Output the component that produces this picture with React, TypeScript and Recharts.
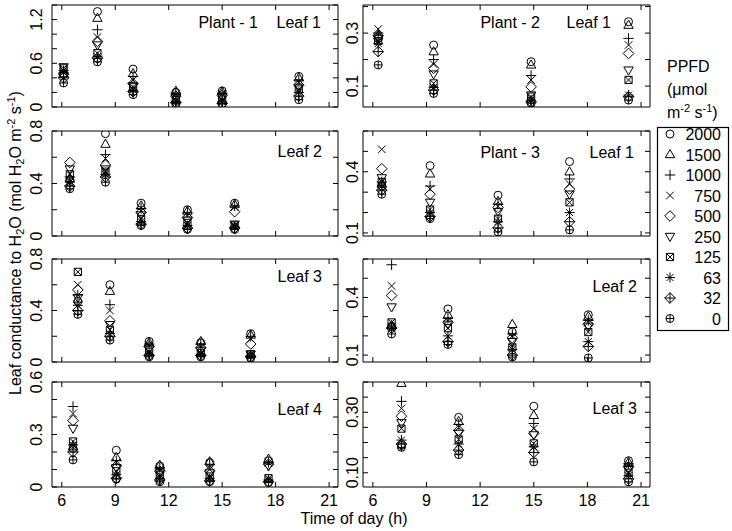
import React from 'react';
import { ScatterChart, Scatter, XAxis, YAxis, ReferenceArea } from 'recharts';

// PPFD levels (µmol m-2 s-1), marker order follows this list
const ppfd = ['2000', '1500', '1000', '750', '500', '250', '125', '63', '32', '0'];
const hourTicks = [6, 9, 12, 15, 18, 21];

// each inner list = one measurement time, values in ppfd order
const p1Hours = [6.1, 8.0, 10.0, 12.4, 15.0, 19.3];
const p1Gs = [
  [0.45, 0.46, 0.47, 0.48, 0.45, 0.55, 0.53, 0.5, 0.4, 0.33],
  [1.31, 1.22, 1.06, 0.96, 0.9, 0.85, 0.74, 0.69, 0.67, 0.62],
  [0.52, 0.46, 0.42, 0.37, 0.32, 0.29, 0.27, 0.23, 0.21, 0.17],
  [0.2, 0.22, 0.19, 0.17, 0.15, 0.13, 0.1, 0.08, 0.06, 0.04],
  [0.22, 0.21, 0.19, 0.18, 0.16, 0.14, 0.1, 0.07, 0.05, 0.04],
  [0.42, 0.4, 0.37, 0.34, 0.3, 0.27, 0.24, 0.2, 0.15, 0.1],
];

const p2Hours = [6.45, 8.45, 10.45, 13.05, 15.7];
const p2Gs = [
  [0.43, 0.44, 0.45, 0.42, 0.56, 0.51, 0.47, 0.41, 0.38, 0.36],
  [0.78, 0.7, 0.62, 0.59, 0.54, 0.51, 0.49, 0.47, 0.45, 0.41],
  [0.25, 0.23, 0.21, 0.19, 0.18, 0.16, 0.13, 0.11, 0.09, 0.08],
  [0.2, 0.19, 0.18, 0.16, 0.14, 0.12, 0.1, 0.08, 0.06, 0.05],
  [0.25, 0.24, 0.23, 0.22, 0.185, 0.09, 0.08, 0.07, 0.06, 0.05],
];

const p3Hours = [6.9, 8.7, 10.9, 13.8, 16.6];
const p3Gs = [
  [0.47, 0.49, 0.52, 0.6, 0.56, 0.5, 0.7, 0.44, 0.4, 0.37],
  [0.6, 0.55, 0.445, 0.4, 0.32, 0.29, 0.25, 0.22, 0.2, 0.17],
  [0.16, 0.15, 0.14, 0.13, 0.12, 0.1, 0.08, 0.06, 0.05, 0.04],
  [0.15, 0.16, 0.14, 0.12, 0.11, 0.09, 0.07, 0.06, 0.05, 0.04],
  [0.22, 0.21, 0.2, 0.18, 0.14, 0.06, 0.06, 0.05, 0.04, 0.03],
];

const p4Hours = [6.63, 9.06, 11.5, 14.3, 17.6];
const p4Gs = [
  [0.22, 0.23, 0.46, 0.42, 0.38, 0.335, 0.26, 0.24, 0.2, 0.155],
  [0.21, 0.17, 0.15, 0.14, 0.12, 0.11, 0.09, 0.07, 0.05, 0.045],
  [0.12, 0.125, 0.11, 0.1, 0.09, 0.08, 0.07, 0.05, 0.04, 0.03],
  [0.14, 0.145, 0.13, 0.1, 0.09, 0.08, 0.06, 0.05, 0.035, 0.03],
  [0.15, 0.16, 0.14, 0.14, 0.13, 0.12, 0.05, 0.04, 0.03, 0.025],
];

const p5Hours = [6.3, 9.4, 14.85, 20.3];
const p5Gs = [
  [0.28, 0.29, 0.3, 0.315, 0.29, 0.28, 0.27, 0.26, 0.23, 0.18],
  [0.255, 0.23, 0.2, 0.183, 0.167, 0.145, 0.11, 0.095, 0.085, 0.072],
  [0.192, 0.18, 0.14, 0.123, 0.097, 0.066, 0.06, 0.047, 0.04, 0.035],
  [0.343, 0.33, 0.28, 0.255, 0.223, 0.16, 0.123, 0.066, 0.06, 0.047],
];

const p6Hours = [6.5, 9.2, 13.0, 17.0];
const p6Gs = [
  [0.33, 0.34, 0.35, 0.51, 0.415, 0.37, 0.35, 0.33, 0.31, 0.29],
  [0.43, 0.39, 0.33, 0.315, 0.29, 0.25, 0.215, 0.2, 0.18, 0.17],
  [0.285, 0.255, 0.24, 0.23, 0.225, 0.205, 0.17, 0.155, 0.125, 0.105],
  [0.45, 0.4, 0.365, 0.34, 0.315, 0.29, 0.25, 0.2, 0.155, 0.115],
];

const p7Hours = [7.05, 10.2, 13.8, 18.05];
const p7Gs = [
  [0.25, 0.255, 0.57, 0.46, 0.41, 0.35, 0.27, 0.245, 0.24, 0.21],
  [0.34, 0.31, 0.29, 0.28, 0.27, 0.26, 0.24, 0.2, 0.17, 0.155],
  [0.22, 0.26, 0.21, 0.2, 0.19, 0.17, 0.14, 0.13, 0.1, 0.09],
  [0.31, 0.3, 0.28, 0.27, 0.26, 0.25, 0.22, 0.17, 0.145, 0.085],
];

const p8Hours = [7.6, 10.8, 15.0, 20.3];
const p8Gs = [
  [0.19, 0.396, 0.336, 0.313, 0.287, 0.265, 0.246, 0.208, 0.195, 0.184],
  [0.283, 0.27, 0.26, 0.25, 0.24, 0.23, 0.21, 0.195, 0.175, 0.16],
  [0.32, 0.29, 0.263, 0.246, 0.23, 0.225, 0.197, 0.186, 0.167, 0.136],
  [0.14, 0.135, 0.13, 0.125, 0.12, 0.11, 0.1, 0.09, 0.08, 0.07],
];

const font = '"Liberation Sans", Arial, Helvetica, sans-serif';
const ink = '#000';

function Marker({ kind, cx, cy }: { kind: number; cx: number; cy: number }) {
  const st = { fill: 'none', stroke: ink, strokeWidth: 1 };
  switch (kind) {
    case 0:
      return <circle cx={cx} cy={cy} r={4} {...st} />;
    case 1:
      return <path d={`M${cx},${cy - 5}L${cx + 4.7},${cy + 3.2}L${cx - 4.7},${cy + 3.2}Z`} {...st} />;
    case 2:
      return <path d={`M${cx - 5.2},${cy}H${cx + 5.2}M${cx},${cy - 5.2}V${cy + 5.2}`} {...st} />;
    case 3:
      return <path d={`M${cx - 3.8},${cy - 3.8}L${cx + 3.8},${cy + 3.8}M${cx - 3.8},${cy + 3.8}L${cx + 3.8},${cy - 3.8}`} {...st} />;
    case 4:
      return <path d={`M${cx},${cy - 5.3}L${cx + 5.3},${cy}L${cx},${cy + 5.3}L${cx - 5.3},${cy}Z`} {...st} />;
    case 5:
      return <path d={`M${cx},${cy + 5}L${cx + 4.7},${cy - 3.2}L${cx - 4.7},${cy - 3.2}Z`} {...st} />;
    case 6:
      return (
        <path
          d={`M${cx - 3.6},${cy - 3.6}H${cx + 3.6}V${cy + 3.6}H${cx - 3.6}ZM${cx - 3.6},${cy - 3.6}L${cx + 3.6},${cy + 3.6}M${cx - 3.6},${cy + 3.6}L${cx + 3.6},${cy - 3.6}`}
          {...st}
        />
      );
    case 7:
      return (
        <path
          d={`M${cx - 5},${cy}H${cx + 5}M${cx},${cy - 5}V${cy + 5}M${cx - 3.5},${cy - 3.5}L${cx + 3.5},${cy + 3.5}M${cx - 3.5},${cy + 3.5}L${cx + 3.5},${cy - 3.5}`}
          {...st}
        />
      );
    case 8:
      return (
        <path
          d={`M${cx},${cy - 5.3}L${cx + 5.3},${cy}L${cx},${cy + 5.3}L${cx - 5.3},${cy}ZM${cx - 5.3},${cy}H${cx + 5.3}M${cx},${cy - 5.3}V${cy + 5.3}`}
          {...st}
        />
      );
    default:
      return (
        <g>
          <circle cx={cx} cy={cy} r={4} {...st} />
          <path d={`M${cx - 4},${cy}H${cx + 4}M${cx},${cy - 4}V${cy + 4}`} {...st} />
        </g>
      );
  }
}

type PanelCfg = {
  hours: number[];
  gs: number[][];
  x: number;
  y: number;
  w: number;
  h: number;
  yDom: [number, number];
  yTicks: number[];
  yText: string[];
  labelGap: number;
  xLabels: boolean;
};

const xDom: [number, number] = [5.45, 21.5];

const panels: PanelCfg[] = [
  { hours: p1Hours, gs: p1Gs, x: 52, y: 5, w: 286, h: 102, yDom: [0, 1.4], yTicks: [0, 0.2, 0.4, 0.6, 0.8, 1.0, 1.2, 1.4], yText: ['0', '', '', '0.6', '', '', '1.2', ''], labelGap: 10, xLabels: false },
  { hours: p2Hours, gs: p2Gs, x: 52, y: 131, w: 286, h: 105, yDom: [0, 0.8], yTicks: [0, 0.2, 0.4, 0.6, 0.8], yText: ['0', '', '0.4', '', '0.8'], labelGap: 10, xLabels: false },
  { hours: p3Hours, gs: p3Gs, x: 52, y: 259, w: 286, h: 103, yDom: [0, 0.8], yTicks: [0, 0.2, 0.4, 0.6, 0.8], yText: ['0', '', '0.4', '', '0.8'], labelGap: 10, xLabels: false },
  { hours: p4Hours, gs: p4Gs, x: 52, y: 382, w: 286, h: 105, yDom: [0, 0.6], yTicks: [0, 0.1, 0.2, 0.3, 0.4, 0.5, 0.6], yText: ['0', '', '', '0.3', '', '', '0.6'], labelGap: 10, xLabels: true },
  { hours: p5Hours, gs: p5Gs, x: 363, y: 5, w: 287, h: 102, yDom: [0.021, 0.406], yTicks: [0.1, 0.2, 0.3, 0.4], yText: ['0.1', '', '0.3', ''], labelGap: 5, xLabels: false },
  { hours: p6Hours, gs: p6Gs, x: 363, y: 131, w: 287, h: 105, yDom: [0.085, 0.6], yTicks: [0.1, 0.2, 0.3, 0.4, 0.5, 0.6], yText: ['0.1', '', '', '0.4', '', ''], labelGap: 5, xLabels: false },
  { hours: p7Hours, gs: p7Gs, x: 363, y: 259, w: 287, h: 103, yDom: [0.064, 0.6], yTicks: [0.1, 0.2, 0.3, 0.4, 0.5, 0.6], yText: ['0.1', '', '', '0.4', '', ''], labelGap: 5, xLabels: false },
  { hours: p8Hours, gs: p8Gs, x: 363, y: 382, w: 287, h: 105, yDom: [0.053, 0.4], yTicks: [0.1, 0.15, 0.2, 0.25, 0.3, 0.35, 0.4], yText: ['0.10', '', '', '', '0.30', '', ''], labelGap: 5, xLabels: true },
];

// panel captions: [text, right edge x, baseline y]
const captions: [string, number, number][] = [
  ['Plant - 1', 258, 28], ['Leaf 1', 321, 28],
  ['Leaf 2', 322, 157],
  ['Leaf 3', 322, 282],
  ['Leaf 4', 322, 415],
  ['Plant - 2', 540, 28], ['Leaf 1', 611, 28],
  ['Plant - 3', 540, 158], ['Leaf 1', 634, 158],
  ['Leaf 2', 637, 292],
  ['Leaf 3', 637, 414],
];

const padTop = 16;

function Panel({ p }: { p: PanelCfg }) {
  const series = ppfd.map((lvl, i) => ({
    lvl,
    i,
    data: p.hours.map((t, j) => ({ t, g: p.gs[j][i] })),
  }));

  const xTick = (props: any) => {
    const { x, y, payload } = props;
    return (
      <g>
        <line x1={x} y1={y} x2={x} y2={y - 5} stroke={ink} />
        <line x1={x} y1={y - p.h} x2={x} y2={y - p.h + 5} stroke={ink} />
        {p.xLabels && (
          <text x={x} y={y + 19} textAnchor="middle" fontSize={16} fontFamily={font} fill={ink}>
            {payload.value}
          </text>
        )}
      </g>
    );
  };

  const yTick = (props: any) => {
    const { x, y, payload } = props;
    const k = p.yTicks.findIndex((t) => Math.abs(t - payload.value) < 1e-9);
    const label = k >= 0 ? p.yText[k] : '';
    const lx = x - p.labelGap;
    return (
      <g>
        <line x1={x} y1={y} x2={x + 5} y2={y} stroke={ink} />
        <line x1={x + p.w} y1={y} x2={x + p.w - 5} y2={y} stroke={ink} />
        {label && (
          <text
            x={lx}
            y={y}
            transform={`rotate(-90, ${lx}, ${y})`}
            textAnchor="middle"
            fontSize={16}
            fontFamily={font}
            fill={ink}
          >
            {label}
          </text>
        )}
      </g>
    );
  };

  return (
    <div style={{ position: 'absolute', left: p.x - 40, top: p.y - padTop }}>
      <ScatterChart width={p.w + 45} height={p.h + padTop + 25} margin={{ top: padTop, right: 5, bottom: 0, left: 0 }}>
        <XAxis
          type="number"
          dataKey="t"
          domain={xDom}
          ticks={hourTicks}
          interval={0}
          allowDataOverflow
          axisLine={false}
          tickLine={false}
          tickSize={0}
          tickMargin={0}
          height={25}
          tick={xTick}
        />
        <YAxis
          type="number"
          dataKey="g"
          domain={p.yDom}
          ticks={p.yTicks}
          interval={0}
          allowDataOverflow
          axisLine={false}
          tickLine={false}
          tickSize={0}
          tickMargin={0}
          width={40}
          tick={yTick}
        />
        <ReferenceArea
          x1={xDom[0]}
          x2={xDom[1]}
          y1={p.yDom[0]}
          y2={p.yDom[1]}
          fill="none"
          stroke={ink}
          strokeWidth={1}
          ifOverflow="visible"
        />
        {series.map((s) => (
          <Scatter
            key={s.lvl}
            name={s.lvl}
            data={s.data}
            isAnimationActive={false}
            shape={(sp: any) => <Marker kind={s.i} cx={sp.cx} cy={sp.cy} />}
          />
        ))}
      </ScatterChart>
    </div>
  );
}

export default function App() {
  const legendTop = 134;
  const legendStep = 20.5;
  return (
    <div style={{ position: 'absolute', left: 0, top: 0, width: 732, height: 531, background: '#fff', fontFamily: font }}>
      {panels.map((p, i) => (
        <Panel key={i} p={p} />
      ))}
      <svg width={732} height={531} style={{ position: 'absolute', left: 0, top: 0, pointerEvents: 'none' }}>
        <g fontFamily={font} fontSize={16} fill={ink}>
          {captions.map(([t, x, y], i) => (
            <text key={i} x={x} y={y} textAnchor="end">
              {t}
            </text>
          ))}
          <text x={354} y={524} textAnchor="middle">
            Time of day (h)
          </text>
          <text transform="translate(21,243) rotate(-90)" textAnchor="middle">
            Leaf conductance to H<tspan dy={3} fontSize={11}>2</tspan>
            <tspan dy={-3}>O (mol H</tspan>
            <tspan dy={3} fontSize={11}>2</tspan>
            <tspan dy={-3}>O m</tspan>
            <tspan dy={-6} fontSize={11}>-2</tspan>
            <tspan dy={6}> s</tspan>
            <tspan dy={-6} fontSize={11}>-1</tspan>
            <tspan dy={6}>)</tspan>
          </text>
          <text x={667} y={72}>PPFD</text>
          <text x={667} y={95}>(μmol</text>
          <text x={667} y={118}>
            m<tspan dy={-6} fontSize={11}>-2</tspan>
            <tspan dy={6}> s</tspan>
            <tspan dy={-6} fontSize={11}>-1</tspan>
            <tspan dy={6}>)</tspan>
          </text>
          <rect x={657.5} y={127.5} width={71} height={203} fill="none" stroke={ink} strokeWidth={1.2} />
          {ppfd.map((lvl, i) => (
            <g key={lvl}>
              <Marker kind={i} cx={670} cy={legendTop + i * legendStep} />
              <text x={721} y={legendTop + i * legendStep + 6} textAnchor="end">
                {lvl}
              </text>
            </g>
          ))}
        </g>
      </svg>
    </div>
  );
}
